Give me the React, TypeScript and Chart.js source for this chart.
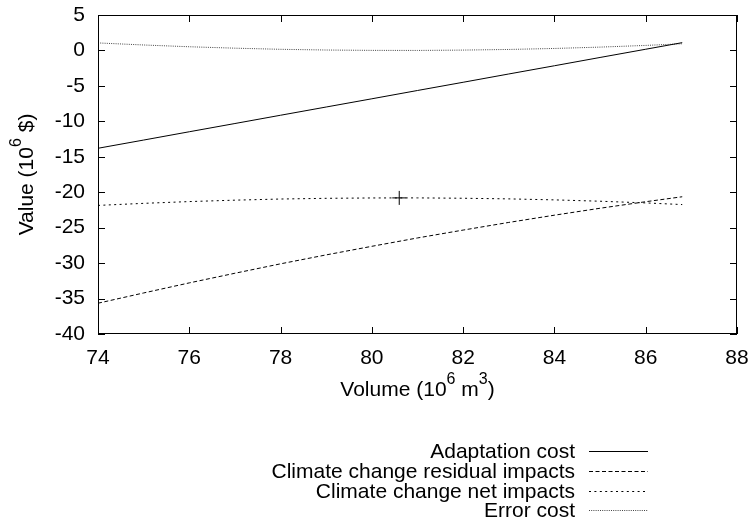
import { useEffect, useRef } from "react";
import { Chart, registerables } from "chart.js";

Chart.register(...registerables);

const FONT = "'Liberation Sans', Arial, Helvetica, sans-serif";

// Data
const volume = [74, 75, 76, 77, 78, 79, 80, 81, 82, 83, 84, 85, 86, 86.8];
const adaptationCost = [-13.8, -12.64, -11.47, -10.31, -9.14, -7.98, -6.82, -5.65, -4.49, -3.32, -2.16, -0.99, 0.17, 1.1];
const residualImpacts = [-35.66, -34.21, -32.79, -31.43, -30.1, -28.84, -27.63, -26.45, -25.34, -24.26, -23.24, -22.26, -21.34, -20.64];
const netImpacts = [-21.86, -21.57, -21.32, -21.12, -20.96, -20.86, -20.81, -20.8, -20.85, -20.94, -21.08, -21.27, -21.51, -21.74];
const errorCost = [1.06, 0.77, 0.52, 0.32, 0.16, 0.06, 0.01, 0.0, 0.05, 0.14, 0.28, 0.47, 0.71, 0.94];
const optimumVolume = [80.6];
const optimumValue = [-20.8];

const seriesNames = [
  "Adaptation cost",
  "Climate change residual impacts",
  "Climate change net impacts",
  "Error cost",
];
const seriesDash: number[][] = [[], [4, 2.5], [2, 3.4], [1, 1.2]];
const seriesColors = ["#000", "#000", "#000", "#444"];
const seriesValues = [adaptationCost, residualImpacts, netImpacts, errorCost];

const xMin = 74;
const xMax = 88;
const xStep = 2;
const yMin = -40;
const yMax = 5;
const yStep = 5;

type Part = { t: string; sup?: boolean };

function drawParts(ctx: CanvasRenderingContext2D, parts: Part[], cx: number, baseline: number) {
  const normal = `21px ${FONT}`;
  const small = `16px ${FONT}`;
  let total = 0;
  const widths = parts.map((p) => {
    ctx.font = p.sup ? small : normal;
    const w = ctx.measureText(p.t).width;
    total += w;
    return w;
  });
  let x = cx - total / 2;
  ctx.textAlign = "left";
  ctx.textBaseline = "alphabetic";
  parts.forEach((p, i) => {
    ctx.font = p.sup ? small : normal;
    ctx.fillText(p.t, x, p.sup ? baseline - 12 : baseline);
    x += widths[i];
  });
}

const framePlugin = {
  id: "gnuplotFrame",
  afterDraw(chart: any) {
    const { ctx } = chart;
    const xs = chart.scales.x;
    const ys = chart.scales.y;
    const left = Math.round(xs.getPixelForValue(xMin));
    const right = Math.round(xs.getPixelForValue(xMax));
    const top = Math.round(ys.getPixelForValue(yMax));
    const bottom = Math.round(ys.getPixelForValue(yMin));
    const tl = 7;
    ctx.save();
    ctx.strokeStyle = "#000";
    ctx.lineWidth = 1;
    ctx.setLineDash([]);
    ctx.strokeRect(left + 0.5, top + 0.5, right - left - 1, bottom - top - 1);
    ctx.beginPath();
    for (let v = xMin; v <= xMax; v += xStep) {
      const px = Math.round(xs.getPixelForValue(v)) + 0.5;
      ctx.moveTo(px, bottom);
      ctx.lineTo(px, bottom - tl);
      ctx.moveTo(px, top);
      ctx.lineTo(px, top + tl);
    }
    for (let v = yMin; v <= yMax; v += yStep) {
      const py = Math.round(ys.getPixelForValue(v)) + 0.5;
      ctx.moveTo(left, py);
      ctx.lineTo(left + tl, py);
      ctx.moveTo(right, py);
      ctx.lineTo(right - tl, py);
    }
    ctx.stroke();

    ctx.fillStyle = "#000";
    // x title
    drawParts(
      ctx,
      [{ t: "Volume (10" }, { t: "6", sup: true }, { t: " m" }, { t: "3", sup: true }, { t: ")" }],
      (left + right) / 2,
      396
    );
    // y title
    ctx.save();
    ctx.translate(33, (top + bottom) / 2);
    ctx.rotate(-Math.PI / 2);
    drawParts(ctx, [{ t: "Value (10" }, { t: "6", sup: true }, { t: " $)" }], 0, 0);
    ctx.restore();

    // legend
    const rowsY = [451, 471, 491, 510];
    ctx.font = `21px ${FONT}`;
    ctx.textAlign = "right";
    ctx.textBaseline = "middle";
    seriesNames.forEach((name, i) => {
      const y = rowsY[i];
      ctx.fillStyle = "#000";
      ctx.fillText(name, 575, y + 1);
      ctx.beginPath();
      ctx.strokeStyle = seriesColors[i];
      ctx.setLineDash(seriesDash[i]);
      ctx.moveTo(589, y + 0.5);
      ctx.lineTo(648, y + 0.5);
      ctx.stroke();
    });
    ctx.restore();
  },
};

function noPadding(s: any) {
  s.paddingTop = 0;
  s.paddingBottom = 0;
  s.paddingLeft = 0;
  s.paddingRight = 0;
}

export default function App() {
  const ref = useRef<HTMLCanvasElement | null>(null);

  useEffect(() => {
    document.body.style.margin = "0";
    const canvas = ref.current;
    if (!canvas) return;
    const datasets: any[] = seriesValues.map((vals, i) => ({
      type: "line",
      label: seriesNames[i],
      data: volume.map((x, j) => ({ x, y: vals[j] })),
      borderColor: seriesColors[i],
      borderWidth: 1,
      borderDash: seriesDash[i],
      pointRadius: 0,
      fill: false,
      tension: 0,
    }));
    datasets.push({
      type: "scatter",
      label: "Optimum",
      data: optimumVolume.map((x, j) => ({ x, y: optimumValue[j] })),
      pointStyle: "cross",
      pointRadius: 7,
      borderColor: "#000",
      borderWidth: 1,
      backgroundColor: "#000",
    });

    const chart = new Chart(canvas, {
      type: "line",
      data: { datasets },
      plugins: [framePlugin],
      options: {
        responsive: false,
        animation: false,
        devicePixelRatio: 1,
        layout: { padding: { left: 0, right: 15, top: 15, bottom: 0 } },
        plugins: { legend: { display: false }, tooltip: { enabled: false } },
        scales: {
          x: {
            type: "linear",
            min: xMin,
            max: xMax,
            afterFit: (s: any) => {
              s.height = 193;
              noPadding(s);
            },
            ticks: {
              stepSize: xStep,
              padding: 12,
              color: "#000",
              font: { family: FONT, size: 21 },
              maxRotation: 0,
            },
            grid: { display: false, drawTicks: false, tickLength: 0 },
            border: { display: false },
          },
          y: {
            type: "linear",
            min: yMin,
            max: yMax,
            afterFit: (s: any) => {
              s.width = 98;
              noPadding(s);
            },
            ticks: {
              stepSize: yStep,
              padding: 13,
              color: "#000",
              font: { family: FONT, size: 21 },
            },
            grid: { display: false, drawTicks: false, tickLength: 0 },
            border: { display: false },
          },
        },
      } as any,
    });
    return () => chart.destroy();
  }, []);

  return (
    <div style={{ width: 752, height: 527, background: "#fff" }}>
      <canvas ref={ref} width={752} height={527} style={{ width: 752, height: 527, display: "block" }} />
    </div>
  );
}
